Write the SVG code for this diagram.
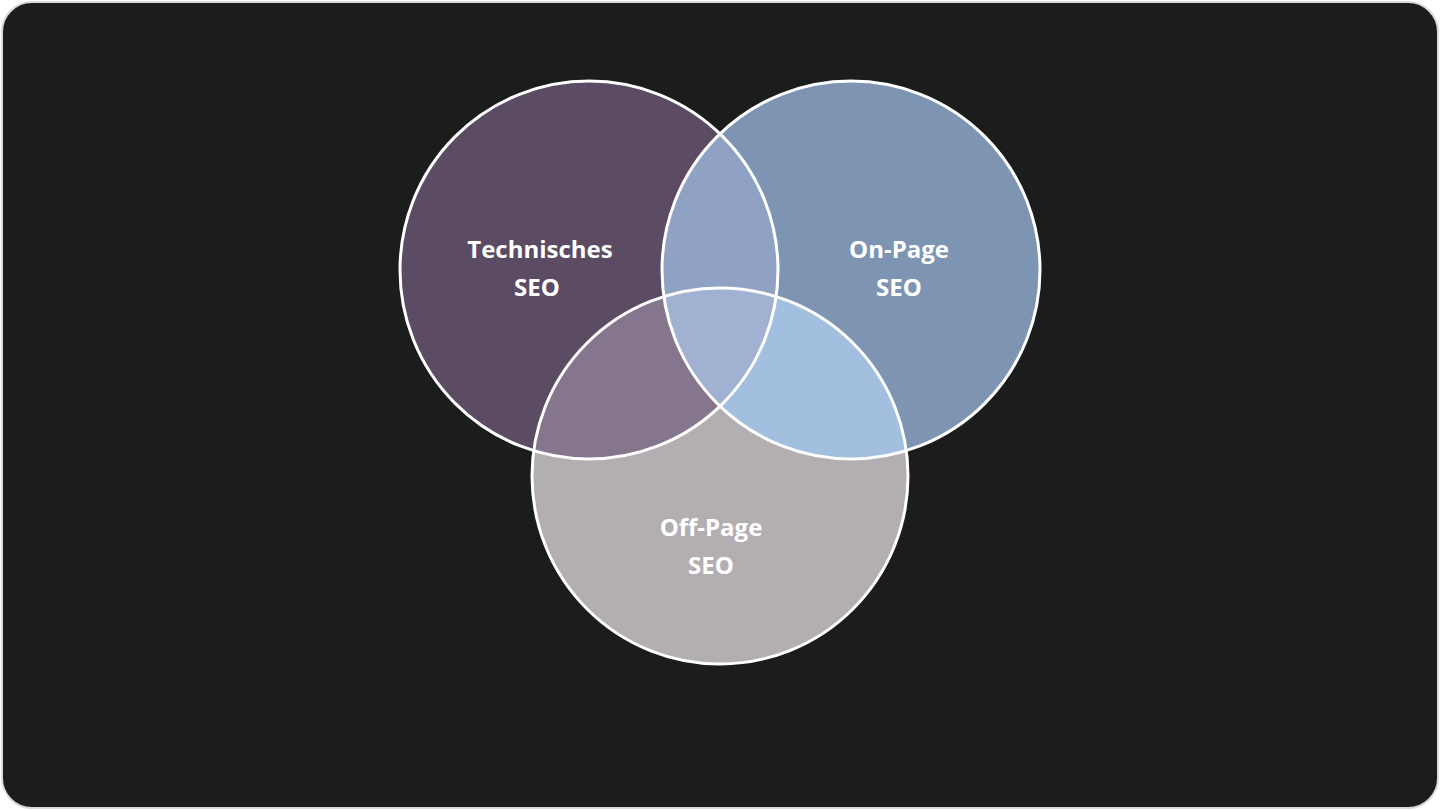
<svg xmlns="http://www.w3.org/2000/svg" width="1440" height="810" viewBox="0 0 1440 810">
<style>
.lbl{font-family:"Open Sans","Noto Sans",sans-serif;font-weight:700;font-size:24px;fill:#ffffff;text-anchor:middle}
.ring{fill:none;stroke:#ffffff;stroke-width:3}
</style>
<defs>
<clipPath id="cL"><circle cx="589" cy="270" r="189"/></clipPath>
<clipPath id="cR"><circle cx="851" cy="270" r="189"/></clipPath>
<clipPath id="cB"><circle cx="720" cy="476" r="188"/></clipPath>
</defs>
<rect width="1440" height="810" fill="#ffffff"/>
<rect x="2" y="2" width="1436" height="806" rx="30" fill="#1b1d1c" stroke="#d9d9d9" stroke-width="2"/>
<g id="technisches">
<circle cx="589" cy="270" r="189" fill="#5b4b63"/>
</g>
<g id="onpage">
<circle cx="851" cy="270" r="189" fill="#7d95b3"/>
</g>
<g id="offpage">
<circle cx="720" cy="476" r="188" fill="#b2aeb1"/>
</g>
<g id="overlaps">
<g clip-path="url(#cL)"><circle cx="851" cy="270" r="189" fill="#8fa2c4"/></g>
<g clip-path="url(#cL)"><circle cx="720" cy="476" r="188" fill="#85768e"/></g>
<g clip-path="url(#cR)"><circle cx="720" cy="476" r="188" fill="#a2bfe0"/></g>
<g clip-path="url(#cL)"><g clip-path="url(#cR)"><circle cx="720" cy="476" r="188" fill="#a0b1d2"/></g></g>
</g>
<g id="connectors">
<circle class="ring" cx="589" cy="270" r="189"/>
<circle class="ring" cx="851" cy="270" r="189"/>
<circle class="ring" cx="720" cy="476" r="188"/>
</g>
<g id="labels">
<text class="lbl" x="540" y="258">Technisches</text>
<text class="lbl" x="537" y="296">SEO</text>
<text class="lbl" x="899" y="258">On-Page</text>
<text class="lbl" x="899" y="296">SEO</text>
<text class="lbl" x="711" y="536">Off-Page</text>
<text class="lbl" x="711" y="574">SEO</text>
</g>
</svg>
